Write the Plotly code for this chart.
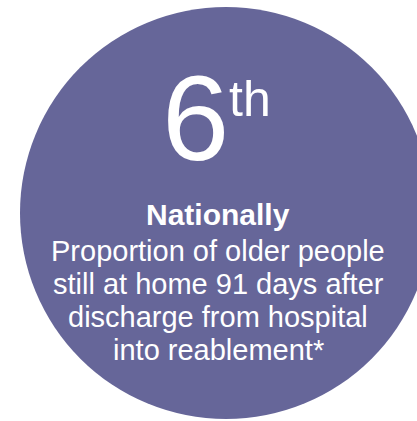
import plotly.graph_objects as go

rank_number = "6"
rank_suffix = "th"
scope_label = "Nationally"
description_lines = [
    "Proportion of older people",
    "still at home 91 days after",
    "discharge from hospital",
    "into reablement*",
]

W, H = 417, 421
circle_color = "#666699"
font_family = "Liberation Sans, Arial, sans-serif"

fig = go.Figure()
fig.add_shape(type="circle", xref="x", yref="y",
              x0=20, x1=432, y0=7, y1=419,
              fillcolor=circle_color, line=dict(width=0), layer="below")

ann = []
ann.append(dict(x=195, y=118, text=rank_number, showarrow=False,
                xanchor="center", yanchor="middle",
                font=dict(family=font_family, size=121, color="white")))
ann.append(dict(x=250, y=99, text=rank_suffix, showarrow=False,
                xanchor="center", yanchor="middle",
                font=dict(family=font_family, size=50, color="white")))
ann.append(dict(x=218, y=214, text="<b>" + scope_label + "</b>", showarrow=False,
                xanchor="center", yanchor="middle",
                font=dict(family=font_family, size=30, color="white")))
line_y = [251, 284, 317, 350]
for t, yy in zip(description_lines, line_y):
    ann.append(dict(x=218, y=yy, text=t, showarrow=False,
                    xanchor="center", yanchor="middle",
                    font=dict(family=font_family, size=29, color="white")))

fig.update_layout(
    width=W, height=H,
    margin=dict(l=0, r=0, t=0, b=0),
    paper_bgcolor="white", plot_bgcolor="white",
    xaxis=dict(range=[0, W], visible=False, fixedrange=True),
    yaxis=dict(range=[H, 0], visible=False, fixedrange=True),
    annotations=ann,
    showlegend=False,
)
fig.write_html("out.html", config={"displayModeBar": False},
               post_script="document.body.style.margin='0';document.body.style.overflow='hidden';")
